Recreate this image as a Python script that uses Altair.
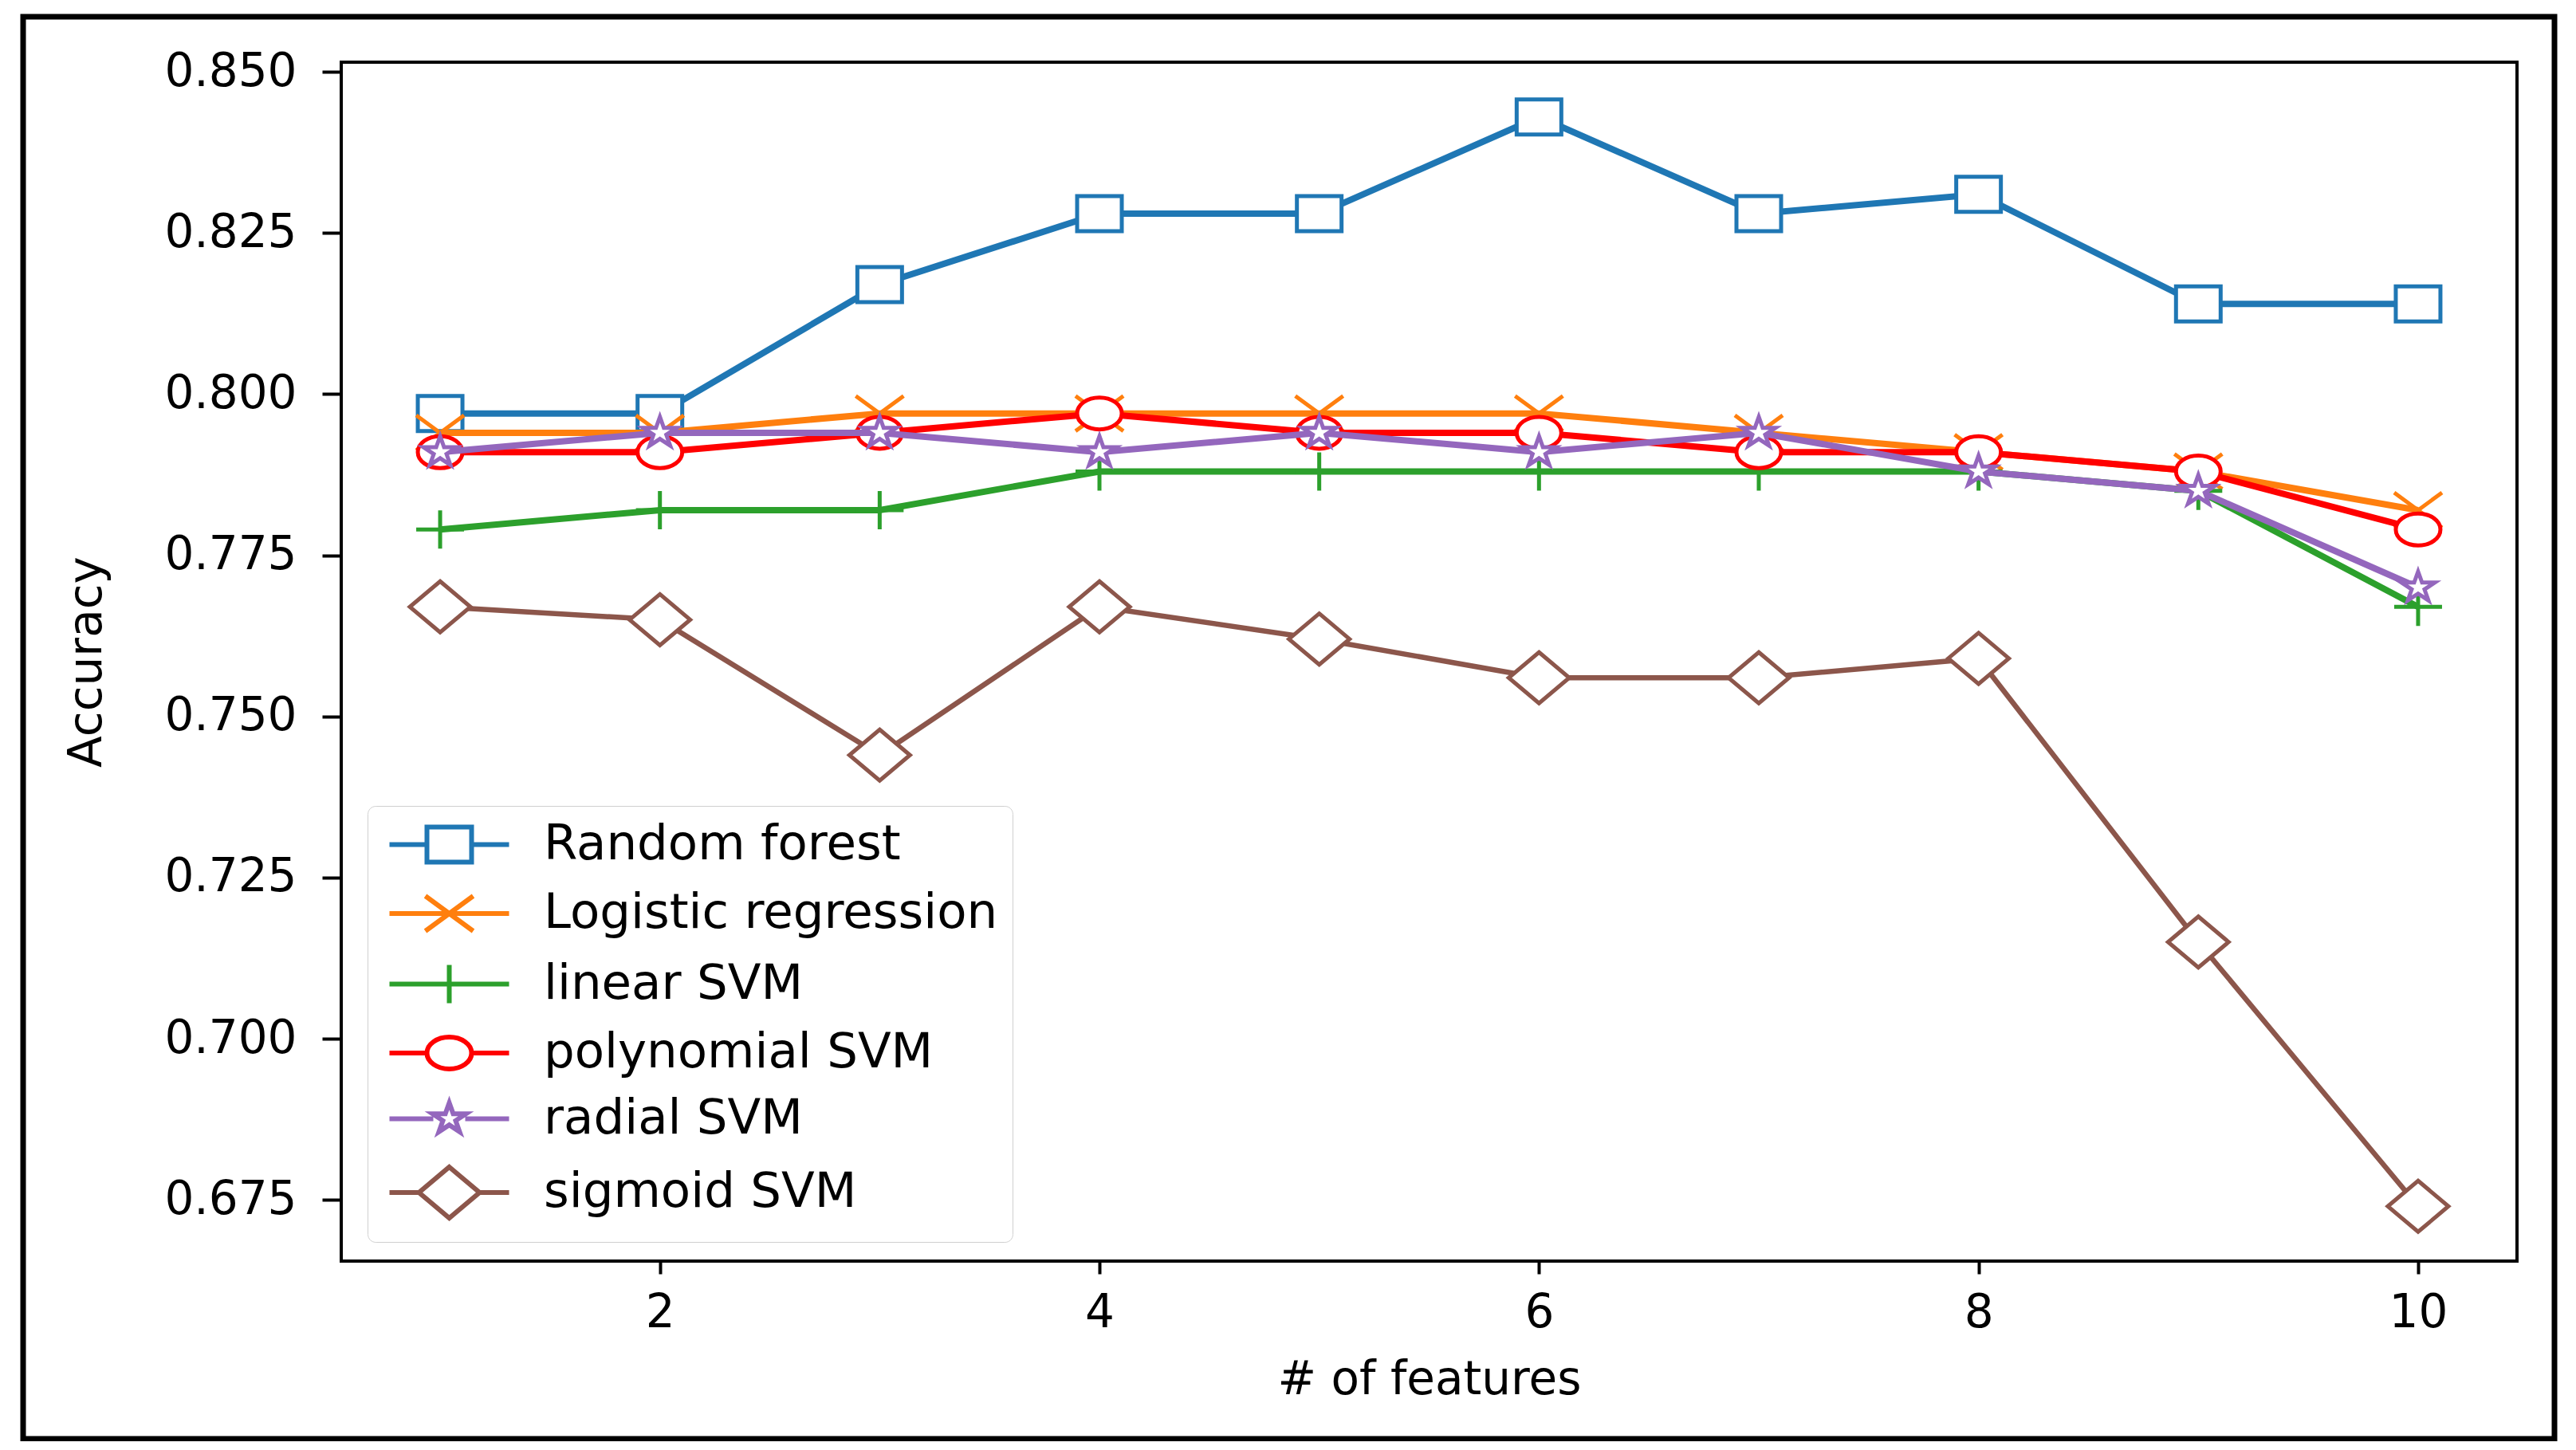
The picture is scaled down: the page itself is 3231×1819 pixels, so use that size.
import math
import altair as alt
import pandas as pd

# ---------------- data ----------------
features = [1, 2, 3, 4, 5, 6, 7, 8, 9, 10]
random_forest = [0.797, 0.797, 0.817, 0.828, 0.828, 0.843, 0.828, 0.831, 0.814, 0.814]
logistic_regression = [0.794, 0.794, 0.797, 0.797, 0.797, 0.797, 0.794, 0.791, 0.788, 0.782]
linear_svm = [0.779, 0.782, 0.782, 0.788, 0.788, 0.788, 0.788, 0.788, 0.785, 0.767]
polynomial_svm = [0.791, 0.791, 0.794, 0.797, 0.794, 0.794, 0.791, 0.791, 0.788, 0.779]
radial_svm = [0.791, 0.794, 0.794, 0.791, 0.794, 0.791, 0.794, 0.788, 0.785, 0.770]
sigmoid_svm = [0.767, 0.765, 0.744, 0.767, 0.762, 0.756, 0.756, 0.759, 0.715, 0.674]

names = ["Random forest", "Logistic regression", "linear SVM",
         "polynomial SVM", "radial SVM", "sigmoid SVM"]
series = [random_forest, logistic_regression, linear_svm,
          polynomial_svm, radial_svm, sigmoid_svm]
colors = ["#1f77b4", "#ff7f0e", "#2ca02c", "#ff0000", "#9467bd", "#8c564b"]
y_ticks = [0.675, 0.700, 0.725, 0.750, 0.775, 0.800, 0.825, 0.850]
x_ticks = [2, 4, 6, 8, 10]

rows = []
for name, vals in zip(names, series):
    for f, v in zip(features, vals):
        rows.append({"features": f, "accuracy": v, "model": name})
df = pd.DataFrame(rows)

# ---------------- marker shapes (unit = 20 px) ----------------
U = 20.0


def n(v):
    return f"{v / U:.3f}"


def rect(hw, hh):
    return f"M{n(-hw)},{n(-hh)}H{n(hw)}V{n(hh)}H{n(-hw)}Z"


def ellipse(rx, ry):
    return (f"M{n(-rx)},0A{n(rx)},{n(ry)},0,1,0,{n(rx)},0"
            f"A{n(rx)},{n(ry)},0,1,0,{n(-rx)},0Z")


def diamond(rx, ry):
    return f"M0,{n(-ry)}L{n(rx)},0L0,{n(ry)}L{n(-rx)},0Z"


def xmark(rx, ry):
    return f"M{n(-rx)},{n(-ry)}L{n(rx)},{n(ry)}M{n(-rx)},{n(ry)}L{n(rx)},{n(-ry)}"


def plus(rx, ry):
    return f"M{n(-rx)},0H{n(rx)}M0,{n(-ry)}V{n(ry)}"


def star(r, sx):
    pts = []
    for k in range(10):
        rad = r if k % 2 == 0 else r * 0.382
        a = math.pi * k / 5.0
        pts.append((rad * math.sin(a) * sx, -rad * math.cos(a)))
    d = "M" + "L".join(f"{n(px)},{n(py)}" for px, py in pts) + "Z"
    return d


markers = [
    (rect(28, 22), 28),
    (xmark(30, 22), 0),
    (plus(30, 24), 0),
    (ellipse(28, 20), 28),
    (star(20, 1.1), 20),
    (diamond(38, 32), 38),
]

STUB = 75
legend_paths = []
for path, half in markers:
    if half == 0:
        stub = f"M{n(-STUB)},0H{n(STUB)}"
    else:
        stub = f"M{n(-STUB)},0H{n(-half)}M{n(half)},0H{n(STUB)}"
    legend_paths.append(stub + path)

W, H = 2729, 1504
FONT = "DejaVu Sans"

x_enc = alt.X("features:Q",
              scale=alt.Scale(domain=[0.55, 10.45], nice=False, zero=False),
              axis=alt.Axis(values=x_ticks, title="# of features", format="d",
                            tickSize=16, labelPadding=20, titlePadding=26))
y_enc = alt.Y("accuracy:Q",
              scale=alt.Scale(domain=[0.6655, 0.8515], nice=False, zero=False),
              axis=alt.Axis(values=y_ticks, title="Accuracy", format=".3f",
                            tickSize=24, labelPadding=32, titlePadding=90))

base = alt.Chart(df)
layers = []
for i, name in enumerate(names):
    sub = base.transform_filter(alt.datum.model == name)
    lw = 6.5 if i == 5 else 8
    layers.append(sub.mark_line(color=colors[i], strokeWidth=lw).encode(x=x_enc, y=y_enc))
    layers.append(sub.mark_point(shape=markers[i][0], size=(2 * U) ** 2, filled=False,
                                 fill="white", stroke=colors[i], strokeWidth=5,
                                 opacity=1, fillOpacity=1).encode(x=x_enc, y=y_enc))

legend = alt.Legend(title=None, orient="none", legendX=33, legendY=933,
                    symbolSize=(2 * U) ** 2, symbolStrokeWidth=6,
                    symbolFillColor="white", symbolOffset=54,
                    labelOffset=88, labelFontSize=61, labelFont=FONT,
                    labelColor="black", labelLimit=0, rowPadding=17.5,
                    padding=18, strokeColor="#d0d0d0", fillColor="white",
                    cornerRadius=10)

legend_layer = base.transform_filter("false").mark_point(
    filled=False, fill="white", opacity=1, strokeWidth=6
).encode(
    x=x_enc, y=y_enc,
    color=alt.Color("model:N", scale=alt.Scale(domain=names, range=colors),
                    sort=names, legend=legend),
    shape=alt.Shape("model:N", scale=alt.Scale(domain=names, range=legend_paths),
                    sort=names, legend=legend),
)

frame = alt.Chart(alt.Data(values=[{"a": 1}])).mark_rect(
    fillOpacity=0, stroke="black", strokeWidth=7
).encode(x=alt.value(-399), x2=alt.value(2776), y=alt.value(-57), y2=alt.value(1727))

chart = alt.layer(*layers, legend_layer, frame).properties(
    width=W, height=H,
    autosize=alt.AutoSizeParams(type="none"),
    padding={"left": 420, "top": 70, "right": 60, "bottom": 226},
    background="white",
).configure_view(
    stroke="black", strokeWidth=4
).configure_axis(
    labelFont=FONT, labelFontSize=58, labelColor="black",
    titleFont=FONT, titleFontSize=58, titleFontWeight="normal", titleColor="black",
    tickColor="black", tickWidth=4, grid=False, domain=False,
)

chart.save("out.html", embed_options={"renderer": "svg", "actions": False})
